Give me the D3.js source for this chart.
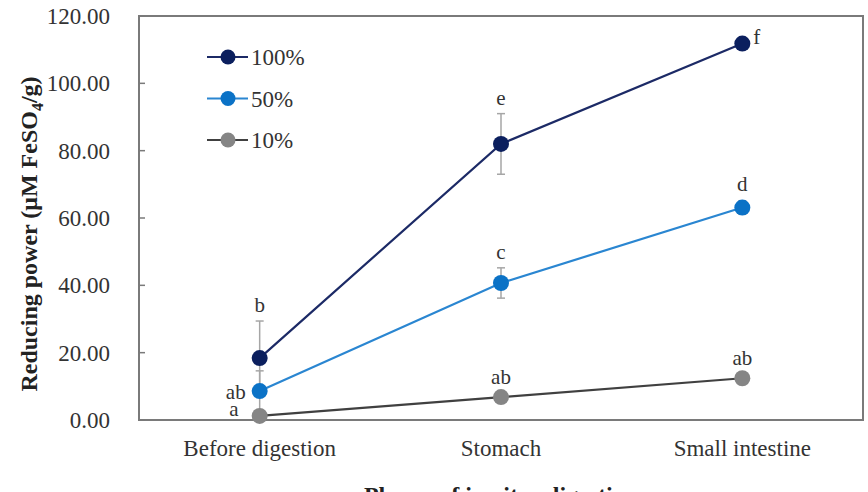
<!DOCTYPE html>
<html lang="en">
<head>
    <meta charset="UTF-8">
    <title>Reducing power</title>
    <script src="https://d3js.org/d3.v7.min.js"></script>
    <style>
        body { margin: 0; background: #fff; }
        svg { font-family: "Liberation Serif", "Times New Roman", serif; }
        .tick-label { font-size: 23px; fill: #333; }
        .axis-title { font-size: 24px; font-weight: bold; fill: #222; }
        .letter { font-size: 21px; fill: #333; }
    </style>
</head>
<body>
    <svg width="868" height="492"></svg>
    <script>
        // data
        const phases = ["Before digestion", "Stomach", "Small intestine"];
        const series = ["100%", "50%", "10%"];
        const val100 = [18.4, 82.0, 111.8];
        const err100 = [11.0, 9.0, 1.0];
        const let100 = ["b", "e", "f"];
        const val50 = [8.6, 40.7, 63.1];
        const err50 = [6.0, 4.5, 2.0];
        const let50 = ["ab", "c", "d"];
        const val10 = [1.2, 6.8, 12.4];
        const err10 = [0.3, 0.4, 0.5];
        const let10 = ["a", "ab", "ab"];
        const yTicks = [0, 20, 40, 60, 80, 100, 120];

        const margin = { top: 16, right: 5, bottom: 72, left: 139 };
        const width = 868 - margin.left - margin.right;
        const height = 492 - margin.top - margin.bottom;

        const svg = d3.select("svg")
            .append("g")
            .attr("transform", `translate(${margin.left},${margin.top})`);

        const x = d3.scaleBand().domain(phases).range([0, width]);
        const y = d3.scaleLinear().domain([0, 120]).range([height, 0]);
        const cx = d => x(d) + x.bandwidth() / 2;

        const groups = [
            { name: "100%", vals: val100, errs: err100, lets: let100, line: "#1c2a66", fill: "#0b1f5e" },
            { name: "50%", vals: val50, errs: err50, lets: let50, line: "#2a86d1", fill: "#0b72c6" },
            { name: "10%", vals: val10, errs: err10, lets: let10, line: "#404040", fill: "#858585" }
        ];

        // frame
        svg.append("rect")
            .attr("x", 0).attr("y", 0)
            .attr("width", width).attr("height", height)
            .attr("fill", "none")
            .attr("stroke", "#7a7a7a")
            .attr("stroke-width", 2);

        // y axis ticks (inward) and labels
        svg.selectAll(".ytick")
            .data(yTicks)
            .enter()
            .append("line")
            .attr("x1", 0).attr("x2", 6)
            .attr("y1", d => y(d)).attr("y2", d => y(d))
            .attr("stroke", "#7a7a7a")
            .attr("stroke-width", 1.5);
        svg.selectAll(".ylab")
            .data(yTicks)
            .enter()
            .append("text")
            .attr("class", "tick-label")
            .attr("x", -29)
            .attr("y", d => y(d) + 8)
            .attr("text-anchor", "end")
            .text(d => d.toFixed(2));

        // x labels
        svg.selectAll(".xlab")
            .data(phases)
            .enter()
            .append("text")
            .attr("class", "tick-label")
            .attr("x", d => cx(d))
            .attr("y", height + 36)
            .attr("text-anchor", "middle")
            .text(d => d);

        const line = d3.line()
            .x((d, i) => cx(phases[i]))
            .y(d => y(d));

        // error bars first (behind lines)
        groups.forEach(g => {
            const eb = svg.append("g");
            g.vals.forEach((v, i) => {
                const xx = cx(phases[i]);
                eb.append("line")
                    .attr("x1", xx).attr("x2", xx)
                    .attr("y1", y(v + g.errs[i])).attr("y2", y(v - g.errs[i]))
                    .attr("stroke", "#a6a6a6").attr("stroke-width", 1.5);
                [v + g.errs[i], v - g.errs[i]].forEach(e => {
                    eb.append("line")
                        .attr("x1", xx - 4).attr("x2", xx + 4)
                        .attr("y1", y(e)).attr("y2", y(e))
                        .attr("stroke", "#a6a6a6").attr("stroke-width", 1.5);
                });
            });
        });

        groups.slice().reverse().forEach(g => {
            svg.append("path")
                .datum(g.vals)
                .attr("d", line)
                .attr("fill", "none")
                .attr("stroke", g.line)
                .attr("stroke-width", 2.2);
            svg.selectAll(null)
                .data(g.vals)
                .enter()
                .append("circle")
                .attr("cx", (d, i) => cx(phases[i]))
                .attr("cy", d => y(d))
                .attr("r", 8)
                .attr("fill", g.fill);
        });

        // significance letters
        const letterPos = [
            { g: 0, i: 0, dx: 0, dy: -9, anchor: "middle", ref: "err" },
            { g: 0, i: 1, dx: 0, dy: -9, anchor: "middle", ref: "err" },
            { g: 0, i: 2, dx: 11, dy: 0, anchor: "start", ref: "pt" },
            { g: 1, i: 0, dx: -14, dy: 8, anchor: "end", ref: "pt" },
            { g: 1, i: 1, dx: 0, dy: -9, anchor: "middle", ref: "err" },
            { g: 1, i: 2, dx: 0, dy: -10, anchor: "middle", ref: "err" },
            { g: 2, i: 0, dx: -21, dy: 0, anchor: "end", ref: "pt" },
            { g: 2, i: 1, dx: 0, dy: -12, anchor: "middle", ref: "err" },
            { g: 2, i: 2, dx: 0, dy: -12, anchor: "middle", ref: "err" }
        ];
        letterPos.forEach(p => {
            const g = groups[p.g];
            const v = g.vals[p.i];
            const top = p.ref === "err" ? y(v + g.errs[p.i]) : y(v);
            svg.append("text")
                .attr("class", "letter")
                .attr("x", cx(phases[p.i]) + p.dx)
                .attr("y", top + p.dy)
                .attr("text-anchor", p.anchor)
                .text(g.lets[p.i]);
        });

        // legend
        const legend = svg.append("g").attr("transform", "translate(68,41)");
        groups.forEach((g, k) => {
            const row = legend.append("g").attr("transform", `translate(0,${k * 41.5})`);
            row.append("line")
                .attr("x1", 0).attr("x2", 41)
                .attr("stroke", g.line).attr("stroke-width", 2.2);
            row.append("circle")
                .attr("cx", 21).attr("r", 7.5)
                .attr("fill", g.fill);
            row.append("text")
                .attr("class", "tick-label")
                .attr("x", 44).attr("y", 8)
                .text(series[k]);
        });

        // axis titles (the x title is clipped at the bottom edge, as in the reference)
        svg.append("text")
            .attr("class", "axis-title")
            .attr("x", width / 2)
            .attr("y", height + 83)
            .attr("text-anchor", "middle")
            .text("Phases of in vitro digestion");

        const yt = svg.append("text")
            .attr("class", "axis-title")
            .attr("transform", `translate(${-margin.left + 37},${234 - margin.top}) rotate(-90)`)
            .attr("text-anchor", "middle");
        yt.append("tspan").text("Reducing power (μM FeSO");
        yt.append("tspan").attr("dy", 6).style("font-size", "16px").text("4");
        yt.append("tspan").attr("dy", -6).text("/g)");
    </script>
</body>
</html>
